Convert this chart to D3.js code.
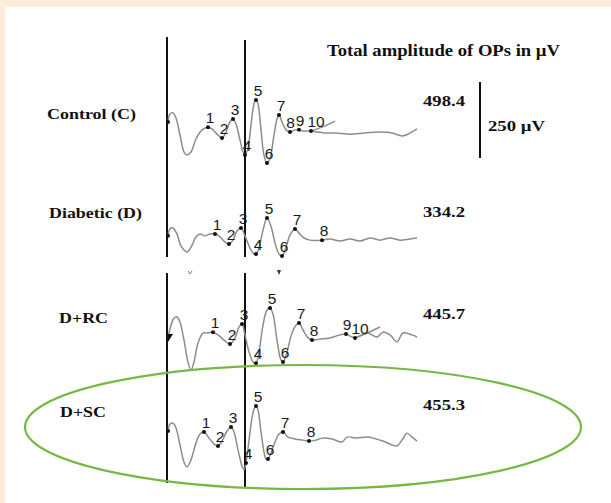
<!DOCTYPE html>
<html><head><meta charset="utf-8">
<script src="https://cdn.jsdelivr.net/npm/d3@7/dist/d3.min.js"></script>
<style>
html,body{margin:0;padding:0;background:#fdebdc;}
svg{display:block;}
</style></head>
<body>
<script>
// ---------- data ----------
const groups = ["Control (C)", "Diabetic (D)", "D+RC", "D+SC"];
const totals = ["498.4", "334.2", "445.7", "455.3"];
const titleText = "Total amplitude  of OPs in \u00b5V";
const scaleBarValue = 250; // µV
const scaleBarLabel = "250 \u00b5V";
const stimulusTimes = [0, 31.2]; // ms

// traces: [time ms, amplitude µV]
const controlTrace = [[0.4,33],[1.2,59],[2.4,63],[3.6,46],[5.2,-10],[6.8,-66],[8,-76],[9.6,-66],[11.6,-23],[14,7],[16.4,16],[18,10],[20,-7],[22,-20],[23.6,0],[25.2,33],[26.4,43],[27.6,26],[29.2,-26],[30.4,-66],[31.2,-76],[32.4,-53],[33.6,23],[34.8,92],[35.6,105],[36.4,92],[37.6,7],[38.8,-76],[40,-102],[41.2,-86],[42.8,-10],[44,43],[44.8,56],[46,33],[47.6,7],[49.2,0],[51.2,7],[52.8,7],[54.8,3],[57.6,3],[60.4,0],[63.2,-3],[67.2,-3],[73.2,-7],[79.2,-3],[85.2,0],[90,-3],[92.4,-10],[94.4,-13],[96.4,-7],[100,10]];
const controlTail = [[57.6,3],[62,16],[67.2,36]];
const controlPeaks = [16.4,22,26.4,31.2,35.6,40,44.8,49.2,52.8,57.6];

const diabeticTrace = [[0.4,7],[1.2,30],[2.4,33],[4,13],[5.6,-26],[8,-46],[9.6,-30],[11.6,3],[13.2,13],[15.2,7],[17.2,13],[19.2,13],[20.8,7],[22.8,-10],[24.8,-20],[26.4,-7],[28,23],[29.6,33],[31.2,7],[33.2,-33],[34.8,-53],[35.6,-53],[36.8,-33],[38.4,26],[40,66],[41.6,39],[43.2,-16],[44.8,-53],[46,-59],[47.6,-30],[49.2,10],[51.2,30],[52.8,16],[54.8,0],[57.2,-7],[62,-7],[65.2,-3],[69.2,-10],[73.2,-3],[77.2,-10],[81.2,0],[85.2,-7],[89.2,0],[93.2,-7],[97.2,-3],[100,0]];
const diabeticPeaks = [19.2,24.8,29.6,35.6,40,46,51.2,62];

const rcTrace = [[0.4,0],[1.6,39],[2.8,62],[4,66],[5.2,49],[6.8,-10],[8.4,-82],[9.6,-109],[10.8,-82],[12.4,-20],[14.4,13],[16.4,13],[18.4,16],[20.4,7],[22.8,-10],[25.2,-23],[27.2,-3],[28.8,33],[30,43],[31.2,7],[32.8,-49],[34.4,-82],[35.6,-86],[36.8,-49],[38.4,39],[40,89],[41.2,95],[42.4,76],[44,-10],[45.6,-76],[46.4,-82],[48,-49],[50,13],[51.6,39],[52.8,46],[54.4,23],[56.4,-3],[58,-10],[61.2,-7],[65.2,-3],[69.2,7],[71.6,10],[73.2,3],[75.2,-3],[80,13],[84,0],[86.4,16],[89.2,7],[92,-16],[94.4,13],[98,7],[100,0]];
const rcTail = [[75.2,-3],[79.2,10],[85.2,33]];
const rcPeaks = [18.4,25.2,30,35.6,41.2,46.4,52.8,58,71.6,75.2];

const scTrace = [[0.4,23],[1.2,46],[2.4,49],[3.6,33],[5.2,-23],[6.8,-79],[8,-95],[9.6,-72],[11.6,-16],[13.2,13],[14.8,20],[16.8,0],[18.8,-20],[20.4,-26],[22,-10],[24,23],[25.6,36],[26.8,20],[28.4,-39],[30,-92],[30.8,-105],[31.6,-82],[32.8,-7],[34,66],[34.8,95],[35.6,105],[36.4,92],[37.6,20],[38.8,-46],[39.6,-69],[40.4,-69],[41.6,-49],[43.2,-13],[44.8,13],[46.4,20],[48.4,3],[51.2,-3],[54.4,-7],[56.8,-10],[59.6,-7],[62.4,0],[66,-3],[70,-13],[72,3],[76,0],[80.4,3],[83.6,-3],[86.4,-10],[92,-26],[94,-7],[96,16],[98,3],[100,-10]];
const scPeaks = [14.8,20.4,25.6,31.6,35.6,40.4,46.4,56.8];

const traces = [controlTrace, diabeticTrace, rcTrace, scTrace];
const tails = [controlTail, null, rcTail, null];
const peaks = [controlPeaks, diabeticPeaks, rcPeaks, scPeaks];

// ---------- layout ----------
const W = 611, H = 503;
const baselines = [132, 238, 337, 438];
const svg = d3.select("body").append("svg").attr("width", W).attr("height", H);
svg.append("rect").attr("x", 5).attr("y", 7).attr("width", W - 5).attr("height", H - 7).attr("fill", "#ffffff");

const x = d3.scaleLinear().domain([0, 100]).range([167, 417]);
const y = d3.scaleLinear().domain([-125, 125]).range([38, -38]);
const line = d3.line().x(d => x(d[0])).y(d => y(d[1])).curve(d3.curveCatmullRom.alpha(0.5));

const serif = "'Liberation Serif','Times New Roman',serif";
const sans = "'Liberation Sans',Arial,sans-serif";

// stimulus lines
const segs = [[[37, 257], [273, 483]], [[40, 257], [273, 487]]];
stimulusTimes.forEach((t, i) => {
  segs[i].forEach(s => {
    svg.append("line").attr("x1", x(t)).attr("x2", x(t)).attr("y1", s[0]).attr("y2", s[1])
      .attr("stroke", "#111").attr("stroke-width", 2);
  });
});
// small marks in gap
svg.append("path").attr("d", "M188,271 L190,274 L192,271").attr("fill", "none").attr("stroke", "#777").attr("stroke-width", 1);
svg.append("path").attr("d", "M277,270 L281,270 L279,275 Z").attr("fill", "#333");

// title
svg.append("text").attr("x", 327).attr("y", 56).text(titleText)
  .attr("font-family", serif).attr("font-weight", "bold").attr("font-size", 16)
  .attr("textLength", 233).attr("lengthAdjust", "spacingAndGlyphs").attr("fill", "#111");

// scale bar
const sbY = 120;
svg.append("line").attr("x1", 480).attr("x2", 480)
  .attr("y1", sbY + y(scaleBarValue / 2)).attr("y2", sbY + y(-scaleBarValue / 2))
  .attr("stroke", "#111").attr("stroke-width", 2);
svg.append("text").attr("x", 488).attr("y", 131).text(scaleBarLabel)
  .attr("font-family", serif).attr("font-weight", "bold").attr("font-size", 15)
  .attr("textLength", 57).attr("lengthAdjust", "spacingAndGlyphs").attr("fill", "#111");

const labelX = [47, 49, 59, 60];
const labelW = [89, 93, 49, 46];
const labelY = [119, 218, 323, 417];
const totalY = [106, 217, 319, 410];
const peakDx = [2, 2, 2, 2, 2, 2, 2, 0.5, 1, 5];

groups.forEach((g, i) => {
  svg.append("text").attr("x", labelX[i]).attr("y", labelY[i]).text(g)
    .attr("font-family", serif).attr("font-weight", "bold").attr("font-size", 15)
    .attr("textLength", labelW[i]).attr("lengthAdjust", "spacingAndGlyphs").attr("fill", "#111");
  svg.append("text").attr("x", 423).attr("y", totalY[i]).text(totals[i])
    .attr("font-family", serif).attr("font-weight", "bold").attr("font-size", 15)
    .attr("textLength", 42).attr("lengthAdjust", "spacingAndGlyphs").attr("fill", "#111");

  const gr = svg.append("g").attr("transform", `translate(0,${baselines[i]})`);
  if (tails[i]) gr.append("path").attr("d", line(tails[i])).attr("fill", "none").attr("stroke", "#8c8c8c").attr("stroke-width", 1.5);
  gr.append("path").attr("d", line(traces[i])).attr("fill", "none").attr("stroke", "#8c8c8c").attr("stroke-width", 1.5);
  // start marker
  const s0 = traces[i][0];
  if (i === 2) {
    gr.append("path").attr("d", `M${x(s0[0]) - 1},${y(s0[1]) - 3} L${x(s0[0]) + 5},${y(s0[1]) - 3} L${x(s0[0])},${y(s0[1]) + 5} Z`).attr("fill", "#111");
  } else {
    gr.append("circle").attr("cx", x(s0[0])).attr("cy", y(s0[1])).attr("r", 2).attr("fill", "#111");
  }
  peaks[i].forEach((t, k) => {
    const p = traces[i].reduce((a, b) => Math.abs(b[0] - t) < Math.abs(a[0] - t) ? b : a);
    gr.append("circle").attr("cx", x(p[0])).attr("cy", y(p[1])).attr("r", 2).attr("fill", "#111");
    const dx = (i === 0 && k < 7) || i !== 0 ? (k === 9 ? 5 : (k === 8 ? 1 : 2)) : peakDx[k];
    gr.append("text").attr("x", x(p[0]) + dx).attr("y", y(p[1]) - 4).text(k + 1)
      .attr("text-anchor", "middle").attr("font-family", sans).attr("font-size", 15.5).attr("fill", "#1a1a1a");
  });
});

// highlight ellipse
svg.append("ellipse").attr("cx", 303).attr("cy", 427).attr("rx", 278).attr("ry", 62)
  .attr("fill", "none").attr("stroke", "#77b844").attr("stroke-width", 2.2);
</script>
</body></html>
